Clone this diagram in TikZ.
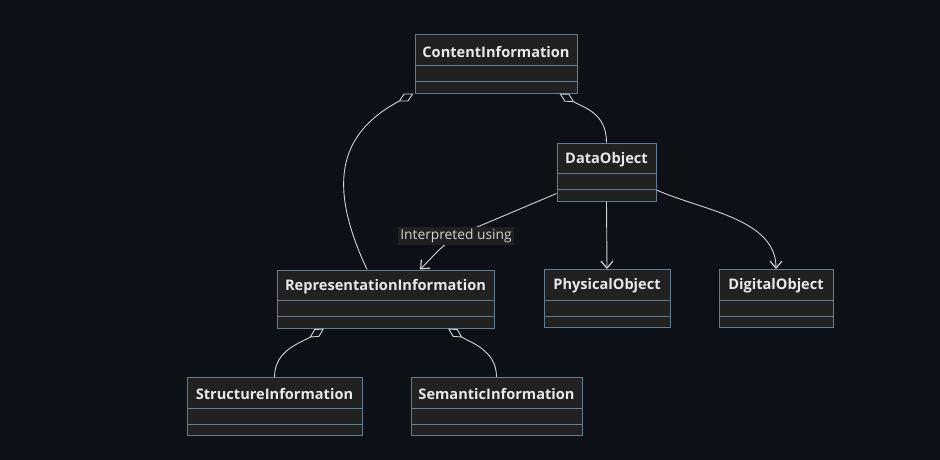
\documentclass[tikz,border=0pt]{standalone}
\usepackage{fontspec}
\setmainfont{Open Sans}
\usepackage{tikz}
\usetikzlibrary{positioning}
\usetikzlibrary{arrows.meta}
\definecolor{bgColor}{RGB}{13,17,23}
\definecolor{boxFill}{RGB}{33,33,33}
\definecolor{boxBorder}{RGB}{98,124,148}
\definecolor{titleColor}{RGB}{232,232,232}
\definecolor{edgeColor}{RGB}{210,210,210}
\definecolor{labelFill}{RGB}{32,32,32}
\tikzstyle{classBoxStyle} = [draw=boxBorder, fill=boxFill, line width=1pt, minimum height=58pt, inner sep=0pt]
\tikzstyle{classTitle} = [text=titleColor, font=\fontsize{14.6}{16}\selectfont\bfseries, inner sep=0pt]
\tikzstyle{classLine} = [draw=boxBorder, line width=1pt]
\tikzstyle{edgeLine} = [draw=edgeColor, line width=0.9pt]
\tikzstyle{assocArrow} = [edgeLine, -{Straight Barb[length=7pt,width=12pt,line width=1.2pt]}]
\tikzstyle{aggrArrow} = [edgeLine, {Diamond[open,length=17pt,width=9pt,line width=0.9pt]}-]
\tikzstyle{edgeLabel} = [fill=labelFill, text=edgeColor, font=\fontsize{13.8}{15}\selectfont, inner xsep=2pt, inner ysep=2pt]
% name, x, y, width, title
\newcommand{\classBox}[5]{
  \node [classBoxStyle, minimum width=#4pt] (#1) at (#2,-#3) {};
  \node [classTitle] at ([yshift=-17pt]#1.north) {#5};
  \draw [classLine] ([yshift=-31pt]#1.north west) -- ([yshift=-31pt]#1.north east);
  \draw [classLine] ([yshift=-47pt]#1.north west) -- ([yshift=-47pt]#1.north east);
}

\begin{document}
\begin{tikzpicture}[x=1pt, y=1pt]
  \fill [bgColor] (0,0) rectangle (940,-460);
  \useasboundingbox (0,0) rectangle (940,-460);

  \classBox{content}{496}{64}{162}{ContentInformation}
  \classBox{data}{606.5}{172}{99}{DataObject}
  \classBox{repr}{385.5}{299}{217}{RepresentationInformation}
  \classBox{physical}{607}{298.5}{126}{PhysicalObject}
  \classBox{digital}{776}{298.5}{114}{DigitalObject}
  \classBox{structure}{274.5}{406.5}{175}{StructureInformation}
  \classBox{semantic}{496.5}{406.5}{171}{SemanticInformation}

  % aggregations
  \draw [aggrArrow] ([xshift=-1pt]content.south west) to [out=208, in=115, looseness=1.25] ([xshift=-18.5pt]repr.north);
  \draw [aggrArrow] ([xshift=-18pt]content.south east) to [out=-30, in=90, looseness=1.1] (data.north);
  \draw [aggrArrow] ([xshift=-61.5pt]repr.south) to [out=212, in=90] (structure.north);
  \draw [aggrArrow] ([xshift=62.5pt]repr.south) to [out=-32, in=90] (semantic.north);

  % associations
  \draw [assocArrow] (data.south) -- (physical.north);
  \draw [assocArrow] ([yshift=-18pt]data.east) to [out=-24, in=90, looseness=0.9] (digital.north);
  \node [edgeLabel] (interp) at (456,-236) {Interpreted using};
  \draw [assocArrow] ([yshift=8pt]data.south west) to [out=203, in=23] (interp.center) to [out=215, in=45] ([xshift=34.5pt]repr.north);
  \node [edgeLabel] at (interp) {Interpreted using};
\end{tikzpicture}
\end{document}
